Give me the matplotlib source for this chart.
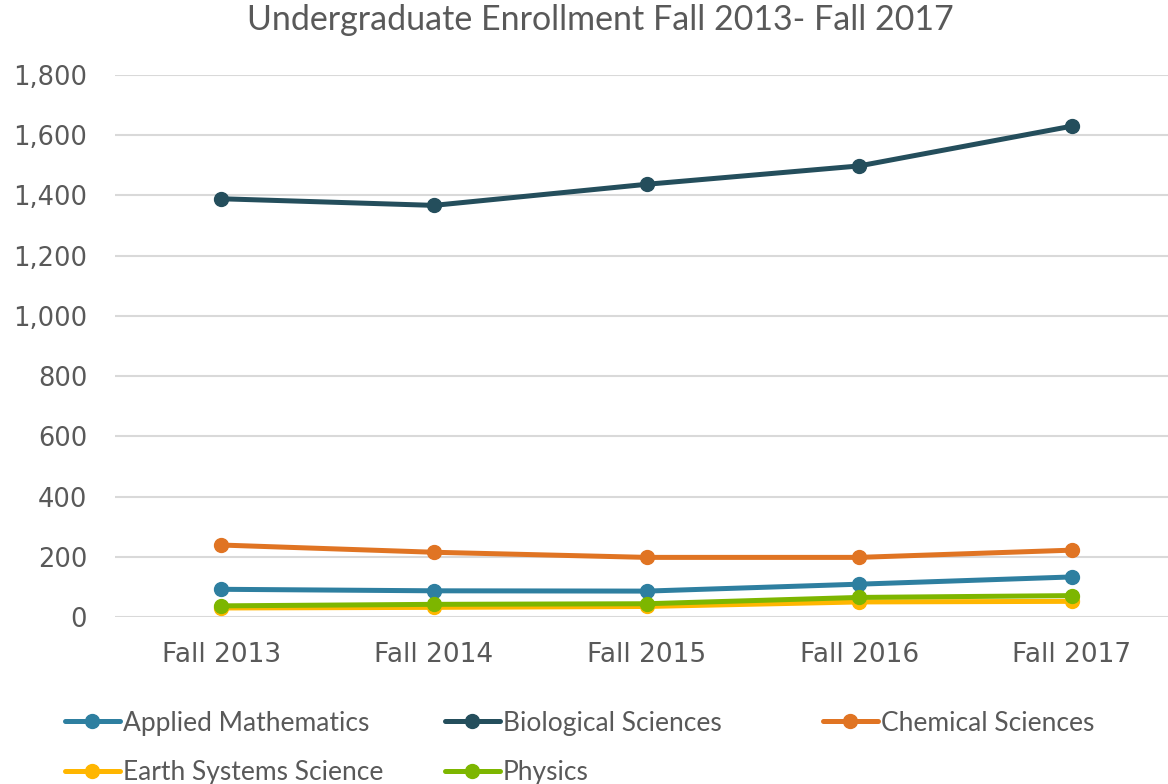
import matplotlib
matplotlib.use("Agg")
import matplotlib.pyplot as plt

categories = ["Fall 2013", "Fall 2014", "Fall 2015", "Fall 2016", "Fall 2017"]
applied_math = [92, 87, 86, 109, 133]
biological = [1389, 1367, 1437, 1498, 1630]
chemical = [239, 215, 198, 198, 222]
earth_systems = [30, 32, 35, 50, 52]
physics = [37, 42, 44, 65, 71]
y_ticks = [0, 200, 400, 600, 800, 1000, 1200, 1400, 1600, 1800]

series = [
    ("Applied Mathematics", applied_math, "#2E7FA0"),
    ("Biological Sciences", biological, "#244E5C"),
    ("Chemical Sciences", chemical, "#E07423"),
    ("Earth Systems Science", earth_systems, "#FFB600"),
    ("Physics", physics, "#7DB600"),
]

text_color = "#595959"
plt.rcParams['font.family'] = ['DejaVu Sans']

fig = plt.figure(figsize=(11.68, 7.84), dpi=100)
ax = fig.add_axes([115/1168, (784-617)/784, (1178-115)/1168, (617-75)/784])

x = list(range(len(categories)))
handles = {}
for name, vals, color in series:
    h, = ax.plot(x, vals, color=color, linewidth=3.6, marker='o', markersize=10,
                 solid_capstyle='round', label=name, zorder=3)
    handles[name] = h

ax.set_xlim(-0.5, 4.5)
ax.set_ylim(0, 1800)
ax.set_yticks(y_ticks)
ax.set_yticklabels([f"{v:,}" for v in y_ticks])
ax.set_xticks(x)
ax.set_xticklabels(categories)
ax.grid(axis='y', color='#D9D9D9', linewidth=1.5, zorder=0)
ax.set_axisbelow(True)
for s in ax.spines.values():
    s.set_visible(False)
ax.tick_params(axis='both', length=0, labelcolor=text_color)
ax.tick_params(axis='y', labelsize=18.5, pad=20)
ax.tick_params(axis='x', labelsize=19, pad=18)

fig.text(600/1168, 1 - 20/784, "Undergraduate Enrollment Fall 2013- Fall 2017",
         ha='center', va='center', fontsize=24.5, color=text_color,
         family=['Lato', 'DejaVu Sans'])

columns = [
    (54, ["Applied Mathematics", "Earth Systems Science"]),
    (434, ["Biological Sciences", "Physics"]),
    (812, ["Chemical Sciences"]),
]
for xpos, names in columns:
    fig.legend([handles[n] for n in names], names, ncol=1,
               loc='upper left', bbox_to_anchor=(xpos/1168, 1 - 700/784),
               frameon=False, labelcolor=text_color,
               prop={'family': ['Lato', 'DejaVu Sans'], 'size': 19},
               handlelength=2.1, handletextpad=0.1, borderpad=0.4,
               borderaxespad=0.0, labelspacing=0.92, markerscale=1.0)

fig.savefig("out.png", dpi=100)
